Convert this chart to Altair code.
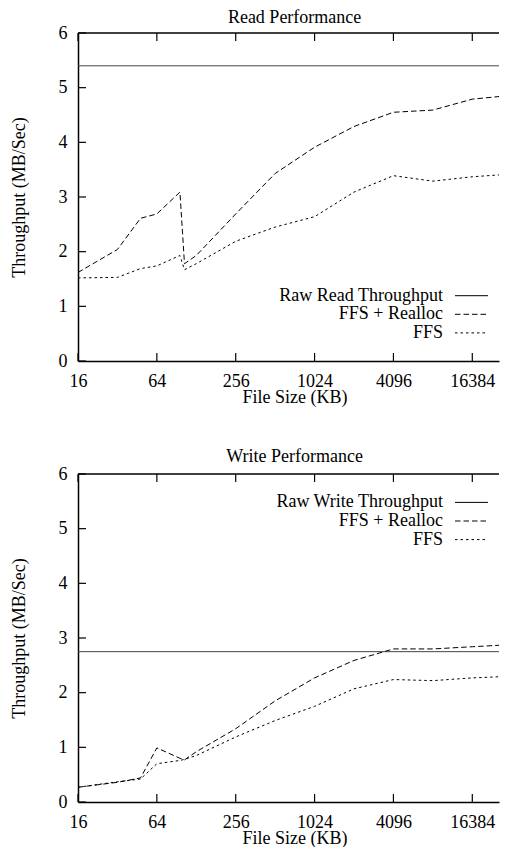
import altair as alt
import pandas as pd

# ---------------- data ----------------
sizes = [16, 32, 48, 64, 96, 104, 128, 256, 512, 1024, 2048, 4096, 8192, 16384, 32768]
read_realloc = [1.62, 2.04, 2.61, 2.69, 3.09, 1.78, 1.93, 2.69, 3.43, 3.91, 4.29, 4.55, 4.59, 4.79, 4.86]
read_ffs = [1.52, 1.53, 1.69, 1.74, 1.93, 1.67, 1.78, 2.19, 2.45, 2.64, 3.09, 3.39, 3.29, 3.37, 3.42]
write_realloc = [0.27, 0.36, 0.44, 0.99, 0.80, 0.77, 0.92, 1.34, 1.85, 2.27, 2.59, 2.80, 2.80, 2.84, 2.88]
write_ffs = [0.27, 0.37, 0.42, 0.70, 0.76, 0.78, 0.85, 1.19, 1.49, 1.75, 2.07, 2.24, 2.22, 2.27, 2.30]
raw_read = 5.40
raw_write = 2.75

x_ticks = [16, 64, 256, 1024, 4096, 16384]
y_ticks = [0, 1, 2, 3, 4, 5, 6]
series_names = ["FFS + Realloc", "FFS"]
read_legend = ["Raw Read Throughput", "FFS + Realloc", "FFS"]
write_legend = ["Raw Write Throughput", "FFS + Realloc", "FFS"]

# ---------------- style ----------------
FONT = "Liberation Serif"
W, H = 421, 328
XMAX = 26203
TICK = 8
DASHES = {"solid": [1, 0], "FFS + Realloc": [5.5, 3], "FFS": [2.5, 3]}

xscale = alt.Scale(type="log", base=2, domain=[16, XMAX], nice=False)
yscale = alt.Scale(domain=[0, 6], nice=False)
one = pd.DataFrame({"k": [0]})


def panel(title, title_y, realloc, ffs, raw, legend_labels, legend_top):
    df = pd.DataFrame({
        "size": sizes * 2,
        "tp": realloc + ffs,
        "series": [series_names[0]] * len(sizes) + [series_names[1]] * len(sizes),
    })
    lines = alt.Chart(df).mark_line(clip=True, color="black", strokeWidth=1).encode(
        x=alt.X("size:Q", scale=xscale,
                axis=alt.Axis(values=x_ticks, format="d", title="File Size (KB)",
                              labelFont=FONT, titleFont=FONT,
                              titleBaseline="alphabetic", titleY=41, titleX=216.6)),
        y=alt.Y("tp:Q", scale=yscale,
                axis=alt.Axis(values=y_ticks, format="d", title="Throughput (MB/Sec)",
                              labelFont=FONT, titleFont=FONT,
                              titleX=-58.7, titleY=H / 2, titleBaseline="middle",
                              titleAlign="center")),
        strokeDash=alt.StrokeDash("series:N", legend=None,
                                  scale=alt.Scale(domain=series_names,
                                                  range=[DASHES[s] for s in series_names])),
        detail="series:N",
    )
    raw_rule = alt.Chart(pd.DataFrame({"raw": [raw]})).mark_rule(
        color="#444", strokeWidth=1).encode(y=alt.Y("raw:Q", scale=yscale))

    xt = pd.DataFrame({"v": x_ticks})
    yt = pd.DataFrame({"v": y_ticks})
    tick_style = dict(color="black", strokeWidth=1.2)
    bottom_ticks = alt.Chart(xt).mark_rule(**tick_style).encode(
        x=alt.X("v:Q", scale=xscale), y=alt.value(H - TICK), y2=alt.value(H))
    top_ticks = alt.Chart(xt).mark_rule(**tick_style).encode(
        x=alt.X("v:Q", scale=xscale), y=alt.value(0), y2=alt.value(TICK))
    left_ticks = alt.Chart(yt).mark_rule(**tick_style).encode(
        y=alt.Y("v:Q", scale=yscale), x=alt.value(0), x2=alt.value(TICK))
    top_border = alt.Chart(one).mark_rule(color="black", strokeWidth=1.5).encode(
        x=alt.value(0), x2=alt.value(W), y=alt.value(0))
    title_text = alt.Chart(one).mark_text(
        align="center", baseline="top", font=FONT, fontSize=18, color="black").encode(
        x=alt.value(216.6), y=alt.value(title_y), text=alt.datum(title))

    layers = [raw_rule, lines, bottom_ticks, top_ticks, left_ticks,
              top_border, title_text]
    dash_for_row = ["solid", "FFS + Realloc", "FFS"]
    for i, lab in enumerate(legend_labels):
        ly = legend_top + 18.6 * i
        layers.append(alt.Chart(one).mark_text(
            align="right", baseline="middle", font=FONT, fontSize=18, color="black").encode(
            x=alt.value(365), y=alt.value(ly), text=alt.datum(lab)))
        layers.append(alt.Chart(one).mark_rule(
            color="black", strokeWidth=1, strokeDash=DASHES[dash_for_row[i]]).encode(
            x=alt.value(377), x2=alt.value(410), y=alt.value(ly)))

    return alt.layer(*layers).properties(width=W, height=H)


top = panel("Read Performance", -24.3, read_realloc, read_ffs, raw_read, read_legend, 262.7)
bottom = panel("Write Performance", -26.1, write_realloc, write_ffs, raw_write, write_legend, 28.4)

chart = alt.vconcat(top, bottom, spacing=41).properties(
    padding={"left": 2, "top": 0, "right": 0, "bottom": 0}
).configure(font=FONT).configure_view(strokeOpacity=0).configure_axis(
    labelFont=FONT, titleFont=FONT, labelFontSize=18, titleFontSize=18,
    labelColor="black", titleColor="black", titleFontWeight="normal",
    ticks=False, tickSize=0, grid=False, domainColor="black", domainWidth=1.5,
    labelPadding=11, labelFlush=False,
)

chart.save("out.html", embed_options={"renderer": "svg", "actions": False})
